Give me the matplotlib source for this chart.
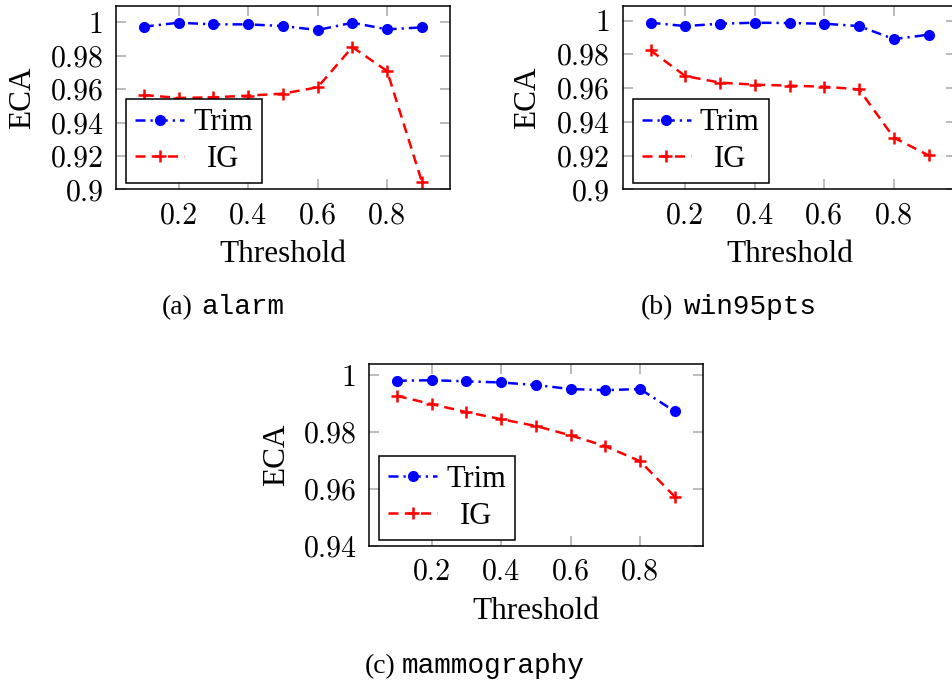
import matplotlib
matplotlib.use('Agg')
import matplotlib.pyplot as plt

thresholds = [0.1, 0.2, 0.3, 0.4, 0.5, 0.6, 0.7, 0.8, 0.9]

alarm_trim = [0.9974, 0.9998, 0.9988, 0.9988, 0.9978, 0.9954, 0.9998, 0.9958, 0.9970]
alarm_ig = [0.9565, 0.9547, 0.9551, 0.9561, 0.9573, 0.9611, 0.9852, 0.9708, 0.9045]

win95_trim = [0.9987, 0.9967, 0.9981, 0.9987, 0.9985, 0.9981, 0.9967, 0.9890, 0.9916]
win95_ig = [0.9823, 0.9671, 0.9632, 0.9620, 0.9614, 0.9608, 0.9592, 0.9306, 0.9201]

mammo_trim = [0.9980, 0.9982, 0.9978, 0.9974, 0.9965, 0.9951, 0.9947, 0.9951, 0.9872]
mammo_ig = [0.9927, 0.9898, 0.9870, 0.9845, 0.9821, 0.9788, 0.9750, 0.9697, 0.9572]

xticks = [0.2, 0.4, 0.6, 0.8]
yticks_ab = [0.9, 0.92, 0.94, 0.96, 0.98, 1.0]
yticks_c = [0.94, 0.96, 0.98, 1.0]

serif = 'Liberation Serif'
mono = 'Liberation Mono'

fig = plt.figure(figsize=(9.52, 6.81), dpi=100)


def panel(rect, trim, ig, yticks, ylim, ylab_x, xlab_y):
    ax = fig.add_axes(rect)
    ax.plot(thresholds, trim, color='blue', lw=1.8, marker='o', ms=7,
            dashes=[4.0, 2.0, 0.9, 2.0], label='Trim')
    ax.plot(thresholds, ig, color='red', lw=1.8, marker='+', ms=8, mew=1.8,
            dashes=[4.0, 2.5], label='IG')
    ax.set_xlim(0.02, 0.98)
    ax.set_ylim(*ylim)
    ax.set_xticks(xticks, ['%g' % t for t in xticks], fontfamily='cmr10')
    ax.set_yticks(yticks, ['%g' % t for t in yticks], fontfamily='cmr10')
    ax.tick_params(direction='in', length=7.5, width=1.1, color='#a8a8a8',
                   top=True, right=True, labelsize=21.5, pad=9)
    for s in ax.spines.values():
        s.set_linewidth(1.1)
    ax.set_xlabel('Threshold', fontfamily=serif, fontsize=22.5, va='center')
    ax.xaxis.set_label_coords(0.5, xlab_y)
    ax.set_ylabel('ECA', fontfamily=serif, fontsize=22.5, va='center')
    ax.yaxis.set_label_coords(ylab_x, 0.5)
    leg = ax.legend(loc='lower left', bbox_to_anchor=(0.03, 0.033),
                    borderaxespad=0, fancybox=False, framealpha=1,
                    edgecolor='black', prop={'family': serif, 'size': 22},
                    handlelength=1.6, handletextpad=0.3, borderpad=0.3,
                    labelspacing=0.25, numpoints=1)
    leg.get_frame().set_linewidth(1.1)
    return ax, leg


W, H = 952, 681
ab_h = 183.3 / H
ab_w = 333.7 / W
ax_a, leg_a = panel([116 / W, 1 - 189.3 / H, ab_w, ab_h], alarm_trim, alarm_ig,
                    yticks_ab, (0.9, 1.0098), -0.28, -0.355)
ax_b, leg_b = panel([622.7 / W, 1 - 189.3 / H, ab_w, ab_h], win95_trim, win95_ig,
                    yticks_ab, (0.9, 1.0086), -0.284, -0.355)
ax_c, leg_c = panel([369 / W, 1 - 545.7 / H, ab_w, 181.7 / H], mammo_trim, mammo_ig,
                    yticks_c, (0.94, 1.0039), -0.277, -0.36)

# centre the IG label under Trim, as pgfplots does
fig.canvas.draw()
for leg in (leg_a, leg_b, leg_c):
    t0, t1 = leg.get_texts()
    w0 = t0.get_window_extent().width
    w1 = t1.get_window_extent().width
    t1.set_x((w0 - w1) / 2)

# sub-captions
caps = [(193, 201.5, 314, '(a)', 'alarm'),
        (672.7, 683.3, 314, '(b)', 'win95pts'),
        (395, 401.7, 673, '(c)', 'mammography')]
for xr, xl, yb, tag, name in caps:
    fig.text(xr / W, 1 - yb / H, tag, ha='right', va='baseline',
             fontfamily=serif, fontsize=20)
    fig.text(xl / W, 1 - yb / H, name, ha='left', va='baseline',
             fontfamily=mono, fontsize=20)

fig.savefig('out.png', dpi=100)
